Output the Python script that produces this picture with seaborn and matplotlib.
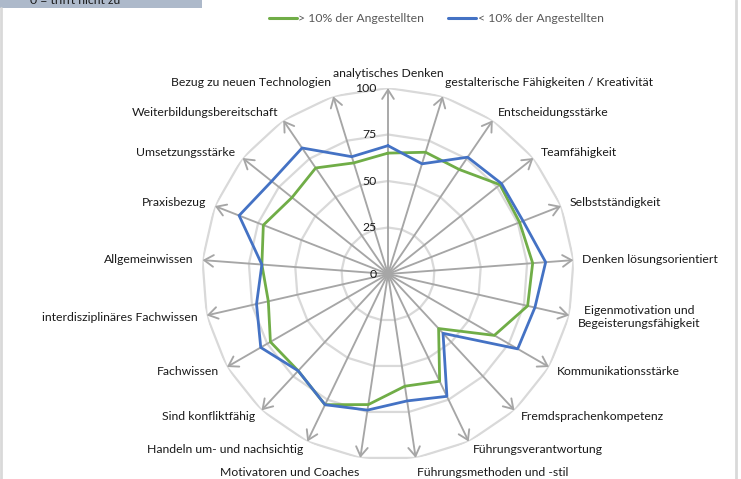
import numpy as np
import pandas as pd
import matplotlib
matplotlib.use("Agg")
import matplotlib.pyplot as plt
from matplotlib.lines import Line2D
from matplotlib.patches import Rectangle
import seaborn as sns

categories = [
    "analytisches Denken",
    "gestalterische Fähigkeiten / Kreativität",
    "Entscheidungsstärke",
    "Teamfähigkeit",
    "Selbstständigkeit",
    "Denken lösungsorientiert",
    "Eigenmotivation und\nBegeisterungsfähigkeit",
    "Kommunikationsstärke",
    "Fremdsprachenkompetenz",
    "Führungsverantwortung",
    "Führungsmethoden und -stil",
    "Motivatoren und Coaches",
    "Handeln um- und nachsichtig",
    "Sind konfliktfähig",
    "Fachwissen",
    "interdisziplinäres Fachwissen",
    "Allgemeinwissen",
    "Praxisbezug",
    "Umsetzungsstärke",
    "Weiterbildungsbereitschaft",
    "Bezug zu neuen Technologien",
]
series_names = ["> 10% der Angestellten", "< 10% der Angestellten"]
green_values = [65, 68.5, 68, 77, 76, 78, 77, 66, 40, 64, 61, 71, 78, 71, 73, 66, 68, 72, 66, 69, 62.5]
blue_values = [69, 62, 76, 78, 78, 85, 81, 80.5, 43.5, 73, 69, 74, 78, 71, 79, 72.5, 68, 86, 80, 82, 66]
radial_ticks = [0, 25, 50, 75, 100]
note_text = "0 = trifft nicht zu"

GREEN = "#70ad47"
BLUE = "#4472c4"
GRID = "#d9d9d9"
AXIS = "#a6a6a6"
TEXT = "#1a1a1a"

sns.set_theme(style="white")
plt.rcParams["font.family"] = ["Lato", "DejaVu Sans"]

W, H = 741, 479
fig = plt.figure(figsize=(W / 100, H / 100), dpi=100)
fig.patch.set_facecolor("white")

cx, cy, R = 388, 274, 186
ax = fig.add_axes([(cx - R) / W, (H - cy - R) / H, 2 * R / W, 2 * R / H], projection="polar")
ax.set_theta_zero_location("N")
ax.set_theta_direction(-1)
ax.set_facecolor("none")
ax.grid(False)
ax.spines["polar"].set_visible(False)

n = len(categories)
theta = np.arange(n) * 2 * np.pi / n
theta_closed = np.append(theta, 2 * np.pi)

# polygon grid
for v in radial_ticks[1:]:
    ax.plot(theta_closed, [v] * (n + 1), color=GRID, lw=1.6, zorder=1)

# radial axes with open arrowheads
for t in theta:
    ax.annotate("", xy=(t, 100), xytext=(t, 0),
                arrowprops=dict(arrowstyle="->,head_length=0.55,head_width=0.35",
                                color=AXIS, lw=1.35, shrinkA=0, shrinkB=0,
                                mutation_scale=12),
                annotation_clip=False, zorder=2)

# data lines via seaborn
rows = []
for name, vals in zip(series_names, [green_values, blue_values]):
    closed = list(vals) + [vals[0]]
    for i, (t, v) in enumerate(zip(theta_closed, closed)):
        rows.append({"theta": t, "value": v, "group": name, "order": i})
df = pd.DataFrame(rows)
sns.lineplot(data=df, x="theta", y="value", hue="group", sort=False, estimator=None,
             palette=[GREEN, BLUE], linewidth=2.0, ax=ax, legend=False, zorder=3)

ax.set_ylim(0, 100)
ax.set_xticks([])
ax.set_yticks([])
ax.set_xlabel("")
ax.set_ylabel("")

FS = 8.8

# radial tick labels
for v in radial_ticks:
    ax.annotate(str(v), xy=(0, v), xytext=(-8.3, 0), textcoords="offset points",
                ha="right", va="center", fontsize=FS, color=TEXT, annotation_clip=False)

# category labels
off = 6.5
for t, lab in zip(theta, categories):
    s, c = np.sin(t), np.cos(t)
    ha = "left" if s > 0.1 else ("right" if s < -0.1 else "center")
    va = "bottom" if c > 0.95 else ("top" if c < -0.95 else "center")
    ax.annotate(lab, xy=(t, 100), xytext=(off * s, off * c), textcoords="offset points",
                ha=ha, va=va, multialignment="center", fontsize=FS, color=TEXT,
                annotation_clip=False, linespacing=1.2)

# legend
handles = [Line2D([], [], color=GREEN, lw=2.2), Line2D([], [], color=BLUE, lw=2.2)]
leg = fig.legend(handles, series_names, loc="center", bbox_to_anchor=(436 / W, 1 - 19 / H),
                 ncol=2, frameon=False, fontsize=FS, handlelength=2.3, handletextpad=0.1,
                 columnspacing=2.0, labelcolor="#595959")

# top-left note box and frame
fig.patches.append(Rectangle((0, 1 - 8 / H), 202 / W, 8 / H, transform=fig.transFigure,
                             facecolor="#adb9ca", edgecolor="none", zorder=0))
fig.text(30 / W, 1 - 4.5 / H, note_text, ha="left", va="baseline", fontsize=FS, color=TEXT)
fig.add_artist(Line2D([1 / W, 1 / W], [0, 1 - 8 / H], transform=fig.transFigure, color=GRID, lw=2))
fig.add_artist(Line2D([736 / W, 736 / W], [0, 1], transform=fig.transFigure, color=GRID, lw=2))

fig.savefig("out.png", dpi=100)
